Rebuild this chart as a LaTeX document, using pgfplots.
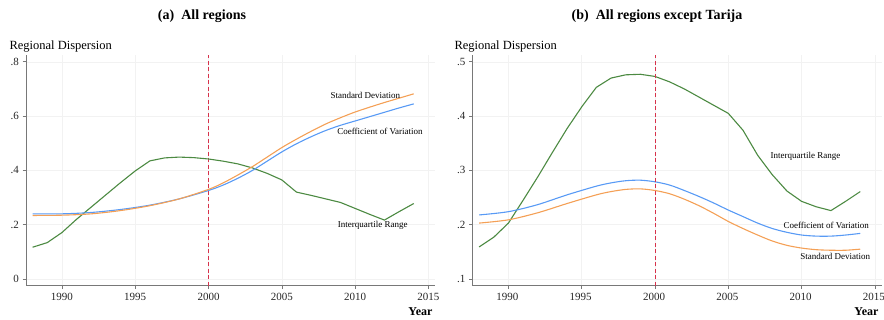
\documentclass[border=0pt]{standalone}
\usepackage{pgfplots}
\pgfplotsset{compat=1.18}
\usepackage{fontspec}
\setmainfont{Liberation Serif}
\definecolor{cgreen}{RGB}{76,138,66}
\definecolor{corange}{RGB}{244,160,86}
\definecolor{cblue}{RGB}{88,154,245}
\definecolor{cred}{RGB}{215,50,75}
\definecolor{cax}{RGB}{120,120,120}
\definecolor{cgrid}{RGB}{242,242,242}
\pgfplotsset{
  myaxis/.style={
    scale only axis, width=409pt, height=230.7pt,
    xmin=1987.55, xmax=2015.45,
    axis lines*=left,
    axis line style={cax, line width=0.8pt},
    every tick/.style={cax, line width=0.6pt},
    tick align=outside, major tick length=3.5pt,
    xtick={1990,1995,...,2015},
    xticklabels={1990,1995,2000,2005,2010,2015},
    grid=major, major grid style={cgrid, line width=0.5pt},
    tick label style={font=\fontsize{11}{13}\selectfont, text=black!85},
    xticklabel style={yshift=-0.5pt},
    clip=false,
    every axis plot/.append style={line width=1.1pt, no marks},
  }
}
\begin{document}
\begin{tikzpicture}[x=1pt,y=1pt]
\useasboundingbox (0,0) rectangle (884,319);
% Titles
\node[font=\fontsize{14}{16}\selectfont\bfseries] at (202,303) {(a)\ \ All regions};
\node[font=\fontsize{14}{16}\selectfont\bfseries] at (657,303) {(b)\ \ All regions except Tarija};
\node[anchor=west,font=\fontsize{12.5}{14}\selectfont] at (6,272) {Regional Dispersion};
\node[anchor=west,font=\fontsize{12.5}{14}\selectfont] at (451,272) {Regional Dispersion};
\node[anchor=east,font=\fontsize{12}{14}\selectfont\bfseries] at (436,7) {Year};
\node[anchor=east,font=\fontsize{12}{14}\selectfont\bfseries] at (882,7) {Year};

% Left panel
\begin{axis}[myaxis, at={(26pt,33.3pt)}, anchor=south west,
  ymin=-0.0247, ymax=0.825,
  ytick={0,0.2,0.4,0.6,0.8}, yticklabels={0,.2,.4,.6,.8}]
\addplot[cred, line width=1pt, dash pattern=on 4pt off 2.5pt] coordinates {(2000,-0.0247) (2000,0.825)};
\addplot[cgreen] coordinates {
(1988,0.117)(1989,0.134)(1990,0.171)(1991,0.220)(1992,0.265)(1993,0.310)(1994,0.355)(1995,0.398)(1996,0.435)(1997,0.446)(1998,0.449)(1999,0.447)(2000,0.442)(2001,0.434)(2002,0.424)(2003,0.409)(2004,0.389)(2005,0.365)(2006,0.320)(2007,0.308)(2008,0.295)(2009,0.282)(2010,0.260)(2011,0.238)(2012,0.217)(2013,0.248)(2014,0.278)};
\addplot[cblue, smooth] coordinates {
(1988,0.240)(1990,0.240)(1992,0.245)(1994,0.256)(1996,0.272)(1998,0.295)(2000,0.326)(2001,0.346)(2002,0.371)(2003,0.400)(2004,0.434)(2005,0.468)(2006,0.498)(2007,0.524)(2008,0.547)(2009,0.566)(2010,0.582)(2011,0.598)(2012,0.614)(2013,0.630)(2014,0.645)};
\addplot[corange, smooth] coordinates {
(1988,0.234)(1990,0.235)(1992,0.240)(1994,0.252)(1996,0.270)(1998,0.295)(2000,0.330)(2001,0.354)(2002,0.383)(2003,0.414)(2004,0.449)(2005,0.484)(2006,0.515)(2007,0.544)(2008,0.571)(2009,0.594)(2010,0.615)(2011,0.633)(2012,0.650)(2013,0.666)(2014,0.682)};
\node[font=\fontsize{9}{11}\selectfont] at (axis cs:2010.7,0.675) {Standard Deviation};
\node[font=\fontsize{9}{11}\selectfont] at (axis cs:2011.7,0.545) {Coefficient of Variation};
\node[font=\fontsize{9}{11}\selectfont] at (axis cs:2011.2,0.199) {Interquartile Range};
\end{axis}

% Right panel
\begin{axis}[myaxis, at={(472.5pt,33.3pt)}, anchor=south west,
  ymin=0.0877, ymax=0.5125,
  ytick={0.1,0.2,0.3,0.4,0.5}, yticklabels={.1,.2,.3,.4,.5},
  xticklabel style={xshift=-1pt}]
\addplot[cgreen] coordinates {
(1988,0.159)(1989,0.177)(1990,0.203)(1991,0.245)(1992,0.288)(1993,0.333)(1994,0.377)(1995,0.417)(1996,0.453)(1997,0.470)(1998,0.476)(1999,0.477)(2000,0.473)(2001,0.463)(2002,0.450)(2003,0.435)(2004,0.420)(2005,0.405)(2006,0.374)(2007,0.328)(2008,0.292)(2009,0.262)(2010,0.243)(2011,0.233)(2012,0.226)(2013,0.243)(2014,0.261)};
\addplot[cblue, smooth] coordinates {
(1988,0.218)(1990,0.224)(1992,0.237)(1994,0.255)(1996,0.271)(1997,0.277)(1998,0.281)(1999,0.282)(2000,0.279)(2001,0.273)(2002,0.263)(2003,0.252)(2004,0.240)(2005,0.227)(2006,0.215)(2007,0.203)(2008,0.193)(2009,0.186)(2010,0.181)(2011,0.179)(2012,0.179)(2013,0.181)(2014,0.184)};
\addplot[corange, smooth] coordinates {
(1988,0.203)(1990,0.209)(1992,0.222)(1994,0.239)(1996,0.255)(1997,0.261)(1998,0.265)(1999,0.266)(2000,0.263)(2001,0.257)(2002,0.247)(2003,0.235)(2004,0.221)(2005,0.206)(2006,0.193)(2007,0.181)(2008,0.170)(2009,0.162)(2010,0.157)(2011,0.154)(2012,0.153)(2013,0.153)(2014,0.155)};
\addplot[cred, line width=1pt, dash pattern=on 4pt off 2.5pt] coordinates {(2000,0.0877) (2000,0.5125)};
\node[anchor=west,font=\fontsize{9}{11}\selectfont] at (axis cs:2007.65,0.325) {Interquartile Range};
\node[font=\fontsize{9}{11}\selectfont] at (axis cs:2011.68,0.198) {Coefficient of Variation};
\node[font=\fontsize{9}{11}\selectfont] at (axis cs:2012.3,0.141) {Standard Deviation};
\end{axis}
\end{tikzpicture}
\end{document}
